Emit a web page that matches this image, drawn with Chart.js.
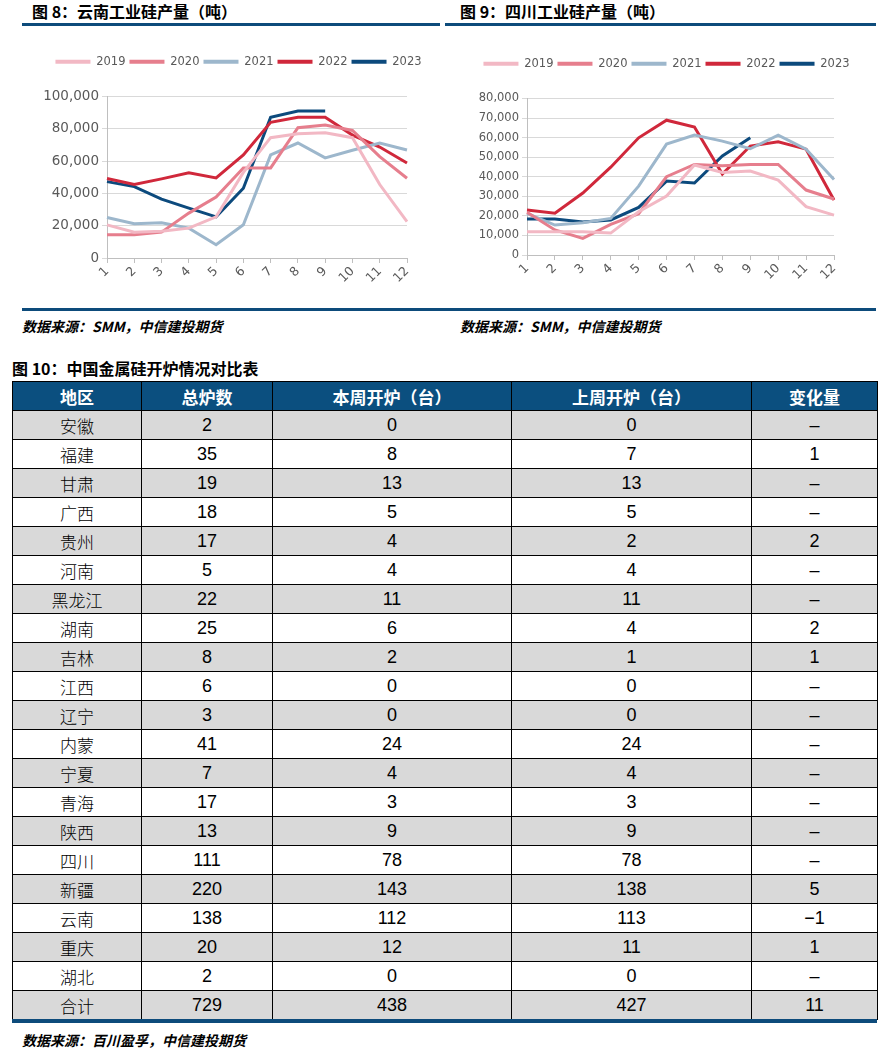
<!DOCTYPE html>
<html>
<head>
<meta charset="utf-8">
<script src="https://cdn.jsdelivr.net/npm/chart.js@4.4.0/dist/chart.umd.min.js"></script>
<style>
body { margin: 0; width: 893px; height: 1051px; position: relative; background: #fff; overflow: hidden; font-family: "Noto Sans CJK SC", sans-serif; }
.ttl { position: absolute; font-size: 16px; font-weight: bold; color: #000; white-space: nowrap; line-height: 20px; }
.rule { position: absolute; height: 3px; background: #0d4b7b; }
.src { position: absolute; font-size: 14px; font-weight: bold; font-style: italic; white-space: nowrap; line-height: 18px; color: #000; }
.box { position: absolute; }
table { position: absolute; left: 12px; top: 381px; width: 865px; border-collapse: collapse; table-layout: fixed; }
th, td { border: 1px solid #000; padding: 0; text-align: center; }
tr { height: 29px; }
th { background: #0b4f7f; color: #fff; font-size: 17px; font-weight: bold; }
td { font-family: "Liberation Sans", Arial, sans-serif; font-size: 18px; color: #000; }
td.name { font-family: "Noto Sans CJK SC", sans-serif; font-size: 17px; font-weight: 300; }
tr.g td { background: #d9d9d9; }
</style>
</head>
<body>

<div class="ttl" style="left:32px;top:1px;">图 8：云南工业硅产量（吨）</div>
<div class="rule" style="left:22px;top:23px;width:418px;"></div>
<div class="ttl" style="left:460px;top:1px;">图 9：四川工业硅产量（吨）</div>
<div class="rule" style="left:445px;top:23px;width:431px;"></div>

<div class="box" style="left:0px;top:30px;width:440px;height:270px;"><canvas id="yunnan"></canvas></div>
<div class="box" style="left:445px;top:30px;width:448px;height:270px;"><canvas id="sichuan"></canvas></div>

<div class="rule" style="left:22px;top:308px;width:854px;"></div>
<div class="src" style="left:22px;top:317px;">数据来源：SMM，中信建投期货</div>
<div class="src" style="left:460px;top:317px;">数据来源：SMM，中信建投期货</div>

<div class="ttl" style="left:12px;top:358px;">图 10：中国金属硅开炉情况对比表</div>
<table id="furnace"></table>
<div class="rule" style="left:12px;top:1019px;width:865px;height:4px;"></div>
<div class="src" style="left:22px;top:1031px;">数据来源：百川盈孚，中信建投期货</div>

<script>
// 月份 & 年份
const months = ['1', '2', '3', '4', '5', '6', '7', '8', '9', '10', '11', '12'];
const years = ['2019', '2020', '2021', '2022', '2023'];
const yearColors = ['#f2b8c4', '#e67e8d', '#9db7cc', '#d0283b', '#0c4a7d'];

// 云南工业硅产量（吨）
const yunnan2019 = [20500, 16000, 16500, 18500, 25500, 53000, 74500, 77000, 77500, 74500, 45500, 22500];
const yunnan2020 = [14400, 14400, 16000, 27800, 37700, 55800, 55800, 80700, 82300, 79000, 62800, 49400];
const yunnan2021 = [25100, 21200, 21800, 18500, 8200, 20600, 63800, 71200, 62000, 66700, 71200, 66900];
const yunnan2022 = [49200, 45500, 49000, 52700, 49600, 63800, 84000, 87200, 87200, 76100, 68700, 58800];
const yunnan2023 = [47300, 44200, 36400, 30900, 25500, 43200, 87200, 91000, 91000];

// 四川工业硅产量（吨）
const sichuan2019 = [11900, 11900, 11900, 11200, 22100, 30100, 46000, 42200, 42900, 38300, 24700, 20400];
const sichuan2020 = [21800, 12800, 8500, 15700, 21100, 40000, 46300, 45600, 46300, 46300, 33200, 28600];
const sichuan2021 = [21300, 15300, 16500, 18700, 35200, 56700, 61300, 58200, 54300, 61300, 54100, 38600];
const sichuan2022 = [23000, 21400, 31700, 44900, 59900, 68900, 65400, 41400, 55700, 57900, 54100, 28100];
const sichuan2023 = [18400, 18400, 16900, 17900, 24300, 37800, 36800, 50600, 59900];

// 开炉对比表
const tableHeader = ['地区', '总炉数', '本周开炉（台）', '上周开炉（台）', '变化量'];
const regions = ['安徽', '福建', '甘肃', '广西', '贵州', '河南', '黑龙江', '湖南', '吉林', '江西', '辽宁',
    '内蒙', '宁夏', '青海', '陕西', '四川', '新疆', '云南', '重庆', '湖北', '合计'];
const totalFurnaces = [2, 35, 19, 18, 17, 5, 22, 25, 8, 6, 3, 41, 7, 17, 13, 111, 220, 138, 20, 2, 729];
const openThisWeek = [0, 8, 13, 5, 4, 4, 11, 6, 2, 0, 0, 24, 4, 3, 9, 78, 143, 112, 12, 0, 438];
const openLastWeek = [0, 7, 13, 5, 2, 4, 11, 4, 1, 0, 0, 24, 4, 3, 9, 78, 138, 113, 11, 0, 427];
const weekChange = ['–', '1', '–', '–', '2', '–', '–', '2', '1', '–', '–', '–', '–', '–', '–', '–', '5', '−1', '1', '–', '11'];

const colWidths = [129, 131, 239, 240, 126];

function buildTable() {
    const table = document.getElementById('furnace');
    const colgroup = document.createElement('colgroup');
    colWidths.forEach(w => {
        const col = document.createElement('col');
        col.style.width = w + 'px';
        colgroup.appendChild(col);
    });
    table.appendChild(colgroup);

    const head = document.createElement('tr');
    tableHeader.forEach(text => {
        const th = document.createElement('th');
        th.textContent = text;
        head.appendChild(th);
    });
    table.appendChild(head);

    regions.forEach((region, i) => {
        const tr = document.createElement('tr');
        if (i % 2 === 0) tr.className = 'g';
        const cells = [region, totalFurnaces[i], openThisWeek[i], openLastWeek[i], weekChange[i]];
        cells.forEach((value, j) => {
            const td = document.createElement('td');
            if (j === 0) td.className = 'name';
            td.textContent = value;
            tr.appendChild(td);
        });
        table.appendChild(tr);
    });
}

// 图例下方留空，并把图例横向挪一点
function legendTweak(extra, shift) {
    return {
        id: 'legendTweak',
        beforeInit(chart) {
            const fit = chart.legend.fit;
            chart.legend.fit = function () {
                fit.bind(chart.legend)();
                this.height += extra;
            };
        },
        afterLayout(chart) {
            chart.legend.left += shift;
            chart.legend.right += shift;
        }
    };
}

function drawProduction(canvasId, seriesList, yMax, yStep, tickSize, padding, yWidth, xHeight, gap, shift) {
    const ctx = document.getElementById(canvasId).getContext('2d');
    return new Chart(ctx, {
        type: 'line',
        data: {
            labels: months,
            datasets: years.map((year, i) => ({
                label: year,
                data: seriesList[i],
                borderColor: yearColors[i],
                backgroundColor: yearColors[i],
                borderWidth: 3,
                pointRadius: 0,
                tension: 0,
                fill: false
            }))
        },
        options: {
            responsive: true,
            maintainAspectRatio: false,
            animation: false,
            layout: { padding: padding },
            plugins: {
                tooltip: { enabled: false },
                legend: {
                    position: 'top',
                    labels: {
                        boxWidth: 35,
                        boxHeight: 4,
                        padding: 4,
                        color: '#595959',
                        font: { family: 'DejaVu Sans', size: 11.5 },
                        generateLabels(chart) {
                            const items = Chart.defaults.plugins.legend.labels.generateLabels(chart);
                            items.forEach(item => {
                                item.lineWidth = 0;
                                item.fillStyle = item.strokeStyle;
                            });
                            return items;
                        }
                    }
                }
            },
            scales: {
                x: {
                    offset: false,
                    afterFit: scale => { scale.height = xHeight; },
                    grid: { drawOnChartArea: false, drawTicks: true, tickLength: 5, color: '#bfbfbf' },
                    border: { display: true, color: '#bfbfbf' },
                    ticks: {
                        autoSkip: false,
                        maxRotation: 45,
                        minRotation: 45,
                        padding: 1,
                        color: '#595959',
                        font: { family: 'DejaVu Sans', size: 12.5 }
                    }
                },
                y: {
                    min: 0,
                    max: yMax,
                    afterFit: scale => { scale.width = yWidth; },
                    grid: { color: '#d9d9d9', tickLength: 5 },
                    border: { display: true, color: '#bfbfbf' },
                    ticks: {
                        stepSize: yStep,
                        padding: 3,
                        color: '#595959',
                        font: { family: 'DejaVu Sans', size: tickSize },
                        callback: value => value.toLocaleString('en-US')
                    }
                }
            }
        },
        plugins: [legendTweak(gap, shift)]
    });
}

document.addEventListener('DOMContentLoaded', () => {
    buildTable();
    drawProduction('yunnan', [yunnan2019, yunnan2020, yunnan2021, yunnan2022, yunnan2023],
        100000, 20000, 13.5, { left: 0, right: 33, top: 22, bottom: 4 }, 107, 38, 19, 35);
    drawProduction('sichuan', [sichuan2019, sichuan2020, sichuan2021, sichuan2022, sichuan2023],
        80000, 10000, 11.5, { left: 0, right: 59, top: 24, bottom: 7 }, 82, 38, 19, 27);
});
</script>
</body>
</html>
